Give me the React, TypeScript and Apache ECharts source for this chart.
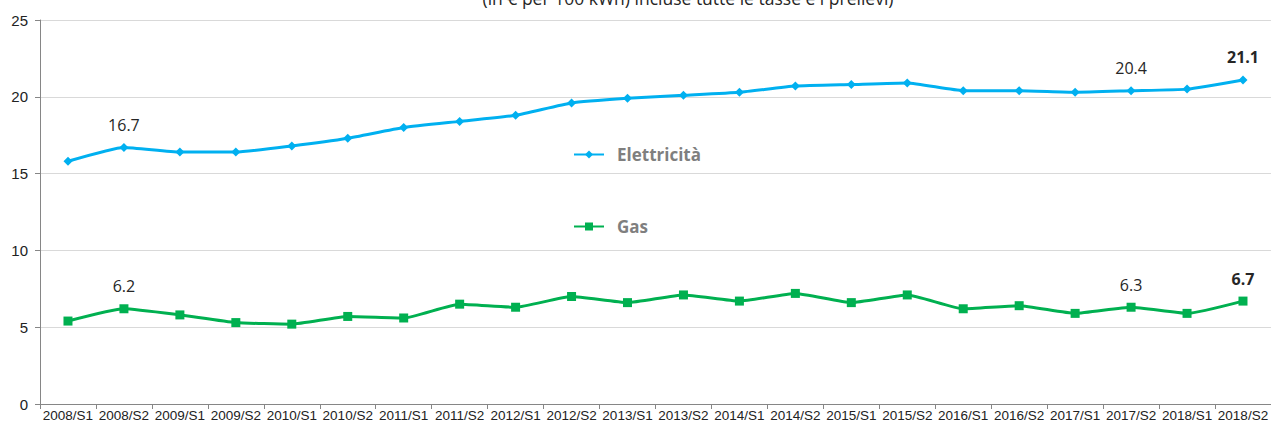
import React, { useEffect, useRef } from "react";
import * as echarts from "echarts";

const categories = [
  "2008/S1", "2008/S2", "2009/S1", "2009/S2", "2010/S1", "2010/S2",
  "2011/S1", "2011/S2", "2012/S1", "2012/S2", "2013/S1", "2013/S2",
  "2014/S1", "2014/S2", "2015/S1", "2015/S2", "2016/S1", "2016/S2",
  "2017/S1", "2017/S2", "2018/S1", "2018/S2",
];
const elettricita = [
  15.8, 16.7, 16.4, 16.4, 16.8, 17.3, 18.0, 18.4, 18.8, 19.6, 19.9, 20.1,
  20.3, 20.7, 20.8, 20.9, 20.4, 20.4, 20.3, 20.4, 20.5, 21.1,
];
const gas = [
  5.4, 6.2, 5.8, 5.3, 5.2, 5.7, 5.6, 6.5, 6.3, 7.0, 6.6, 7.1,
  6.7, 7.2, 6.6, 7.1, 6.2, 6.4, 5.9, 6.3, 5.9, 6.7,
];
const labelledIdx = [1, 19];
const boldIdx = [21];
const yTicks = { min: 0, max: 25, interval: 5 };
const titleText = "(in € per 100 kWh) incluse tutte le tasse e i prelievi)";

function withLabels(values: number[]) {
  return values.map((v, i) => {
    if (labelledIdx.includes(i) || boldIdx.includes(i)) {
      return {
        value: v,
        label: {
          show: true,
          position: "top",
          distance: 10,
          fontFamily: "Open Sans",
          fontSize: 16,
          fontWeight: boldIdx.includes(i) ? "bold" : "normal",
          color: "#262626",
          formatter: (p: any) => p.value.toFixed(1),
        },
      };
    }
    return v;
  });
}

export default function App() {
  const ref = useRef<HTMLDivElement>(null);
  useEffect(() => {
    if (!ref.current) return;
    const chart = echarts.init(ref.current, undefined, { renderer: "svg" });
    chart.setOption({
      animation: false,
      backgroundColor: "#ffffff",
      graphic: [
        {
          type: "text",
          x: 688,
          y: -11,
          style: {
            text: titleText,
            fontFamily: "Open Sans",
            fontSize: 17.5,
            fill: "#262626",
            textAlign: "center",
          },
        },
      ],
      legend: {
        orient: "vertical",
        left: 568,
        top: 141,
        itemGap: 55,
        itemWidth: 30,
        itemHeight: 10,
        data: ["Elettricità", "Gas"],
        textStyle: {
          fontFamily: "Open Sans",
          fontSize: 17,
          fontWeight: "bold",
          color: "#7f7f7f",
          padding: [0, 0, 0, 8],
        },
      },
      grid: { left: 40, top: 20, width: 1237, height: 384 },
      xAxis: {
        type: "category",
        data: categories,
        boundaryGap: true,
        axisLine: { lineStyle: { color: "#868686", width: 1 } },
        axisTick: { show: true, length: 5, lineStyle: { color: "#868686" } },
        axisLabel: {
          interval: 0,
          margin: 4,
          fontFamily: "Liberation Sans",
          fontSize: 13.5,
          color: "#222222",
        },
      },
      yAxis: {
        type: "value",
        min: yTicks.min,
        max: yTicks.max,
        interval: yTicks.interval,
        axisLine: { show: true, lineStyle: { color: "#868686", width: 1 } },
        axisTick: { show: true, length: 5, lineStyle: { color: "#868686" } },
        axisLabel: {
          margin: 12,
          fontFamily: "Liberation Sans",
          fontSize: 15,
          color: "#222222",
        },
        splitLine: { lineStyle: { color: "#d9d9d9", width: 1 } },
      },
      series: [
        {
          name: "Elettricità",
          type: "line",
          data: withLabels(elettricita),
          smooth: 0.15,
          symbol: "diamond",
          symbolSize: 9,
          itemStyle: { color: "#00b0f0" },
          lineStyle: { color: "#00b0f0", width: 3 },
        },
        {
          name: "Gas",
          type: "line",
          data: withLabels(gas),
          smooth: 0.15,
          symbol: "rect",
          symbolSize: 9,
          itemStyle: { color: "#00b050" },
          lineStyle: { color: "#00b050", width: 3 },
        },
      ],
    });
    return () => chart.dispose();
  }, []);
  return (
    <div
      ref={ref}
      style={{ position: "absolute", left: 0, top: 0, width: 1271, height: 426 }}
    />
  );
}
